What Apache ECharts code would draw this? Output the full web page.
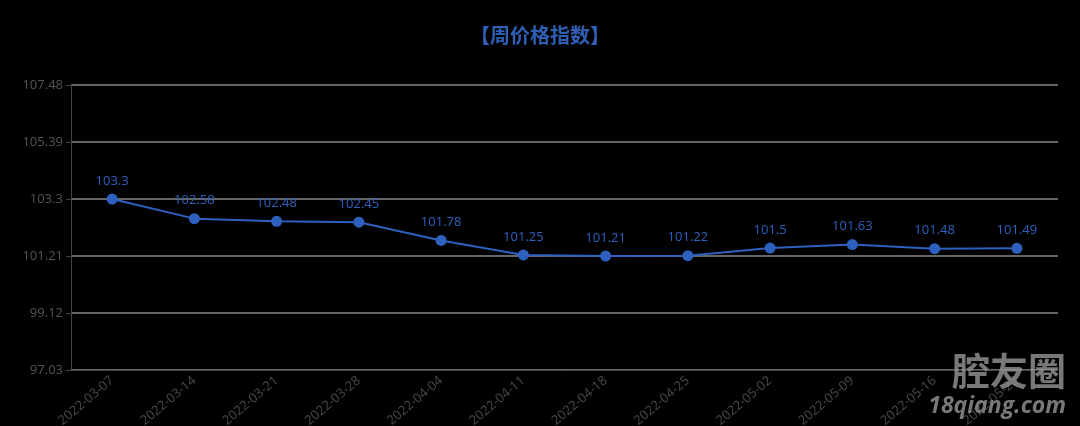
<!DOCTYPE html>
<html>
<head>
<meta charset="utf-8">
<script src="https://cdn.jsdelivr.net/npm/echarts@6/dist/echarts.min.js"></script>
<style>
html,body{margin:0;padding:0;background:#000;}
#main{width:1080px;height:426px;}
</style>
</head>
<body>
<div id="main"></div>
<script>
var categories = ['2022-03-07','2022-03-14','2022-03-21','2022-03-28','2022-04-04','2022-04-11','2022-04-18','2022-04-25','2022-05-02','2022-05-09','2022-05-16','2022-05-23'];
var values = [103.3, 102.58, 102.48, 102.45, 101.78, 101.25, 101.21, 101.22, 101.5, 101.63, 101.48, 101.49];
var yMin = 97.03, yMax = 107.48, yStep = 2.09;

var chart = echarts.init(document.getElementById('main'));
chart.setOption({
  backgroundColor: '#000',
  animation: false,
  title: {
    text: '【周价格指数】',
    left: 'center',
    top: 20,
    textStyle: {color: '#2f5eb5', fontSize: 20, fontWeight: 'bold', fontFamily: 'Noto Sans CJK SC'}
  },
  grid: {left: 71, right: 22, top: 85, bottom: 56, containLabel: false, outerBoundsMode: 'none'},
  xAxis: {
    type: 'category',
    data: categories,
    boundaryGap: true,
    axisLine: {lineStyle: {color: '#444'}},
    axisTick: {lineStyle: {color: '#444'}},
    axisLabel: {color: '#4a4a4a', rotate: 40, fontSize: 13, fontFamily: 'Open Sans', margin: 9}
  },
  yAxis: {
    type: 'value',
    min: yMin, max: yMax, interval: yStep,
    axisLine: {show: true, lineStyle: {color: '#444'}},
    axisTick: {show: true, lineStyle: {color: '#444'}},
    axisLabel: {color: '#555', fontSize: 13, fontFamily: 'Open Sans', formatter: function(v){return +v.toFixed(2);}},
    splitLine: {lineStyle: {color: '#888', width: 1.5}}
  },
  series: [{
    type: 'line',
    data: values,
    symbol: 'circle',
    symbolSize: 11,
    itemStyle: {color: '#2e60bf'},
    lineStyle: {color: '#2e60bf', width: 2},
    label: {show: true, position: 'top', distance: 6, color: '#2e60bf', fontSize: 13, fontFamily: 'Open Sans'}
  }],
  graphic: [
    {type: 'text', right: 14, top: 352, z: 100, style: {text: '腔友圈', fill: 'rgba(150,150,150,0.8)', font: 'bold 38px "Noto Sans CJK SC"', letterSpacing: 8}},
    {type: 'text', right: 14, top: 395, z: 100, style: {text: '18qiang.com', fill: 'rgba(150,150,150,0.8)', font: 'italic bold 23px "Open Sans"'}}
  ]
});
</script>
</body>
</html>
